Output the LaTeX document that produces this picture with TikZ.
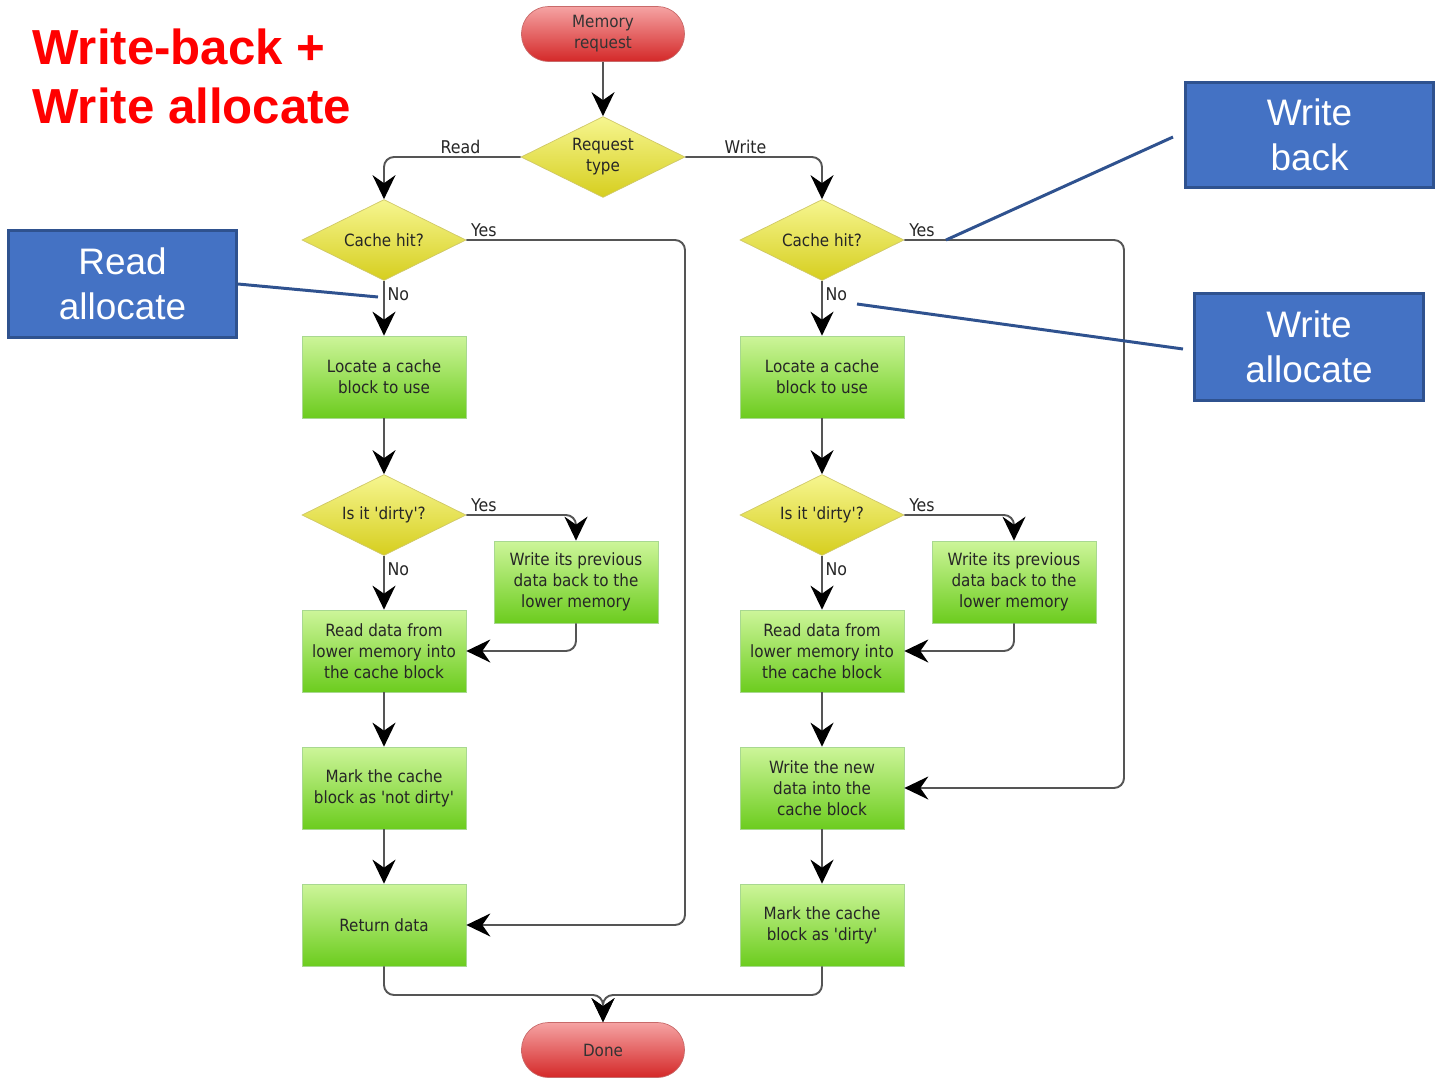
\documentclass[tikz,border=0pt]{standalone}
\usepackage{fontspec}
\setmainfont{Liberation Sans}
\newfontfamily\flowfont{DejaVu Sans Condensed}
\usetikzlibrary{arrows.meta,shapes.geometric}

\definecolor{boxtop}{HTML}{CDF59A}
\definecolor{boxbot}{HTML}{6CCC1E}
\definecolor{boxline}{HTML}{A8D890}
\definecolor{dectop}{HTML}{F6F690}
\definecolor{decbot}{HTML}{D6CE1E}
\definecolor{decline}{HTML}{D0C868}
\definecolor{termtop}{HTML}{F5A3A3}
\definecolor{termbot}{HTML}{D42828}
\definecolor{termline}{HTML}{C86A6A}
\definecolor{notefill}{HTML}{4472C4}
\definecolor{noteline}{HTML}{2F528F}
\definecolor{wire}{HTML}{555555}

\begin{document}
\begin{tikzpicture}[x=0.02cm, y=-0.02cm]
\tikzstyle{box}=[rectangle, draw=boxline, top color=boxtop, bottom color=boxbot, minimum width=3.28cm, minimum height=1.64cm, inner sep=1pt, align=center, text=black!85, font=\flowfont\fontsize{9.6}{12}\selectfont]
\tikzstyle{decision}=[diamond, aspect=2, draw=decline, top color=dectop, bottom color=decbot, minimum width=3.28cm, minimum height=1.62cm, inner sep=0pt, align=center, text=black!85, font=\flowfont\fontsize{9.6}{12}\selectfont]
\tikzstyle{term}=[rectangle, rounded corners=0.54cm, draw=termline, top color=termtop, bottom color=termbot, minimum width=3.26cm, minimum height=1.1cm, align=center, text=black!80, font=\flowfont\fontsize{9.6}{12}\selectfont]
\tikzstyle{lbl}=[inner sep=1.5pt, text=black!85, font=\flowfont\fontsize{10}{11}\selectfont]
\tikzstyle{flow}=[draw=wire, line width=1.1pt, rounded corners=0.2cm, -{Stealth[length=0.48cm, width=0.46cm, inset=0.16cm, color=black]}]
\tikzstyle{note}=[rectangle, draw=noteline, line width=1.7pt, fill=notefill, text=white, align=center, font=\fontsize{21}{25.5}\selectfont]
\tikzstyle{link}=[draw=noteline, line width=1.7pt]
\tikzstyle{title}=[anchor=base west, inner sep=0pt, text=red, font=\bfseries\fontsize{28}{33}\selectfont]

\useasboundingbox (0,0) rectangle (1436,1078);

% Title
\node at (32, 65) [title] (title_1) {Write-back +};
\node at (32, 123) [title] (title_2) {Write allocate};

% Start
\node at (603, 34) [term] (req) {Memory\\request};
\node at (603, 157) [decision] (type) {Request\\type};

% Both columns
\foreach \s/\x in {l/384, r/822} {
  \node at (\x, 240) [decision] (hit_\s) {Cache hit?};
  \node at (\x, 377) [box] (locate_\s) {Locate a cache\\block to use};
  \node at (\x, 515) [decision] (dirty_\s) {Is it \textquotesingle dirty\textquotesingle?};
  \node at (\x+192, 582) [box] (prev_\s) {Write its previous\\data back to the\\lower memory};
  \node at (\x, 651) [box] (read_\s) {Read data from\\lower memory into\\the cache block};
}

% Read column
\node at (384, 788) [box] (mark_l) {Mark the cache\\block as \textquotesingle not dirty\textquotesingle};
\node at (384, 925) [box] (ret_l) {Return data};

% Write column
\node at (822, 788) [box] (new_r) {Write the new\\data into the\\cache block};
\node at (822, 925) [box] (mark_r) {Mark the cache\\block as \textquotesingle dirty\textquotesingle};

% End
\node at (603, 1050) [term] (done) {Done};

% Request -> branches
\draw [flow] (req) -- (type);
\draw [flow] (type.west) -| node[lbl, pos=0.22, above] {Read} (hit_l.north);
\draw [flow] (type.east) -| node[lbl, pos=0.22, above] {Write} (hit_r.north);

\foreach \s in {l, r} {
  \draw [flow] (hit_\s) -- node[lbl, pos=0.25, right] {No} (locate_\s);
  \draw [flow] (locate_\s) -- (dirty_\s);
  \draw [flow] (dirty_\s.east) -| node[lbl, pos=0.08, above] {Yes} (prev_\s.north);
  \draw [flow] (dirty_\s) -- node[lbl, pos=0.25, right] {No} (read_\s);
  \draw [flow] (prev_\s.south) |- (read_\s.east);
}

% Hits
\coordinate (yes_l) at (685, 240);
\coordinate (yes_r) at (1124, 240);
\draw [flow] (hit_l.east) -- node[lbl, pos=0.08, above] {Yes} (yes_l) |- (ret_l.east);
\draw [flow] (hit_r.east) -- node[lbl, pos=0.08, above] {Yes} (yes_r) |- (new_r.east);

\draw [flow] (read_l) -- (mark_l);
\draw [flow] (mark_l) -- (ret_l);
\draw [flow] (read_r) -- (new_r);
\draw [flow] (new_r) -- (mark_r);

% Done
\coordinate (merge) at (603, 995);
\draw [flow] (ret_l.south) |- (merge) -- (done);
\draw [flow] (mark_r.south) |- (merge) -- (done);

% Notes
\node at (122.5, 284) [note, minimum width=4.56cm, minimum height=2.14cm] (ra) {Read\\allocate};
\node at (1309.5, 135) [note, minimum width=4.96cm, minimum height=2.1cm] (wb) {Write\\back};
\node at (1309, 347) [note, minimum width=4.58cm, minimum height=2.14cm] (wa) {Write\\allocate};

\coordinate (ra_end) at (378, 297);
\coordinate (wb_start) at (1173, 137);
\coordinate (wb_end) at (946, 240);
\coordinate (wa_start) at (1183, 349);
\coordinate (wa_end) at (857, 304);
\draw [link] (ra.east) -- (ra_end);
\draw [link] (wb_start) -- (wb_end);
\draw [link] (wa_start) -- (wa_end);
\end{tikzpicture}
\end{document}
